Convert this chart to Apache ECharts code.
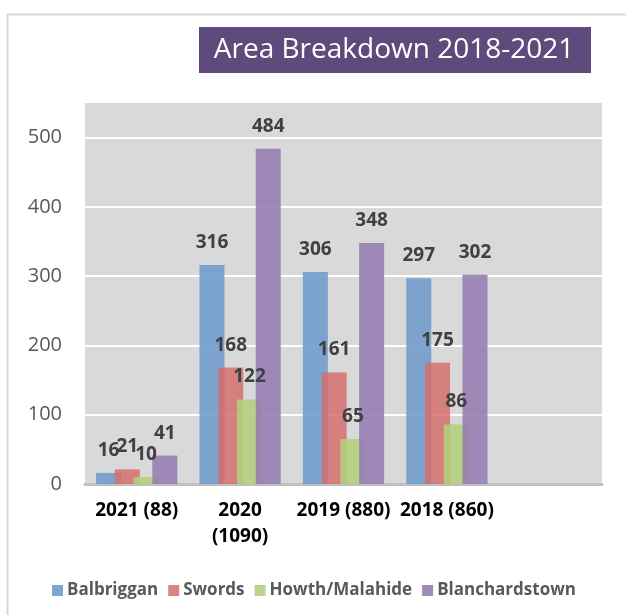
<!DOCTYPE html>
<html>
<head>
<meta charset="utf-8">
<script src="https://cdn.jsdelivr.net/npm/echarts@6/dist/echarts.min.js"></script>
<style>
  html, body { margin: 0; padding: 0; background: #fff; }
  #main { width: 626px; height: 615px; }
</style>
</head>
<body>
<div id="main"></div>
<script>
// categories (last slot is empty in the original sheet)
var categories = ['2021 (88)', '2020\n(1090)', '2019 (880)', '2018 (860)', ''];
var seriesNames = ['Balbriggan', 'Swords', 'Howth/Malahide', 'Blanchardstown'];
var balbriggan = [16, 316, 306, 297, null];
var swords = [21, 168, 161, 175, null];
var howth = [10, 122, 65, 86, null];
var blanch = [41, 484, 348, 302, null];
var colors = ['rgba(113,156,204,0.9)', 'rgba(212,110,111,0.85)', 'rgba(180,206,125,0.9)', 'rgba(150,126,178,0.9)'];

var chart = echarts.init(document.getElementById('main'));

function makeSeries(name, data, i) {
  return {
    name: name,
    type: 'bar',
    data: data,
    barWidth: 25,
    barGap: '-25%',
    itemStyle: { color: colors[i] },
    label: {
      show: true,
      position: 'top',
      distance: 13,
      color: '#404040',
      fontFamily: 'Open Sans',
      fontWeight: 'bold',
      fontSize: 19
    }
  };
}

var option = {
  backgroundColor: '#fff',
  animation: false,
  graphic: [
    {
      // chart frame: only left and top edges fall inside the picture
      type: 'rect',
      shape: { x: 7.5, y: 14.5, width: 640, height: 640 },
      style: { fill: 'none', stroke: '#D9D9D9', lineWidth: 2 }
    },
    {
      type: 'rect',
      shape: { x: 199, y: 27, width: 392, height: 46 },
      style: { fill: '#5F4A7C' }
    },
    {
      type: 'text',
      x: 394, y: 50,
      style: {
        text: 'Area Breakdown 2018-2021',
        fill: '#fff',
        font: '28px "Open Sans"',
        textAlign: 'center',
        textVerticalAlign: 'middle'
      }
    }
  ],
  legend: {
    data: seriesNames,
    left: 47,
    top: 577,
    icon: 'rect',
    itemWidth: 11,
    itemHeight: 11,
    itemGap: 10,
    textStyle: {
      color: '#595959',
      fontFamily: 'Open Sans',
      fontWeight: 'bold',
      fontSize: 17,
      padding: [0, 0, 0, -1]
    }
  },
  grid: {
    left: 85,
    right: 24,
    top: 103,
    bottom: 131,
    show: true,
    backgroundColor: '#D9D9D9',
    borderWidth: 0
  },
  xAxis: {
    type: 'category',
    data: categories,
    axisLine: { lineStyle: { color: '#BFBFBF', width: 3 } },
    axisTick: { show: false },
    axisLabel: {
      color: '#000',
      fontFamily: 'Open Sans',
      fontWeight: 'bold',
      fontSize: 19,
      lineHeight: 26,
      margin: 14,
      interval: 0
    }
  },
  yAxis: {
    type: 'value',
    min: 0,
    max: 550,
    interval: 100,
    axisLine: { show: false },
    axisTick: { show: false },
    splitLine: { showMaxLine: false, lineStyle: { color: '#FFFFFF', width: 2 } },
    axisLabel: {
      color: '#595959',
      fontFamily: 'Open Sans',
      fontSize: 20,
      margin: 23,
      formatter: function (v) { return v % 100 === 0 ? v : ''; }
    }
  },
  series: [
    makeSeries(seriesNames[0], balbriggan, 0),
    makeSeries(seriesNames[1], swords, 1),
    makeSeries(seriesNames[2], howth, 2),
    makeSeries(seriesNames[3], blanch, 3)
  ]
};

chart.setOption(option);
</script>
</body>
</html>
